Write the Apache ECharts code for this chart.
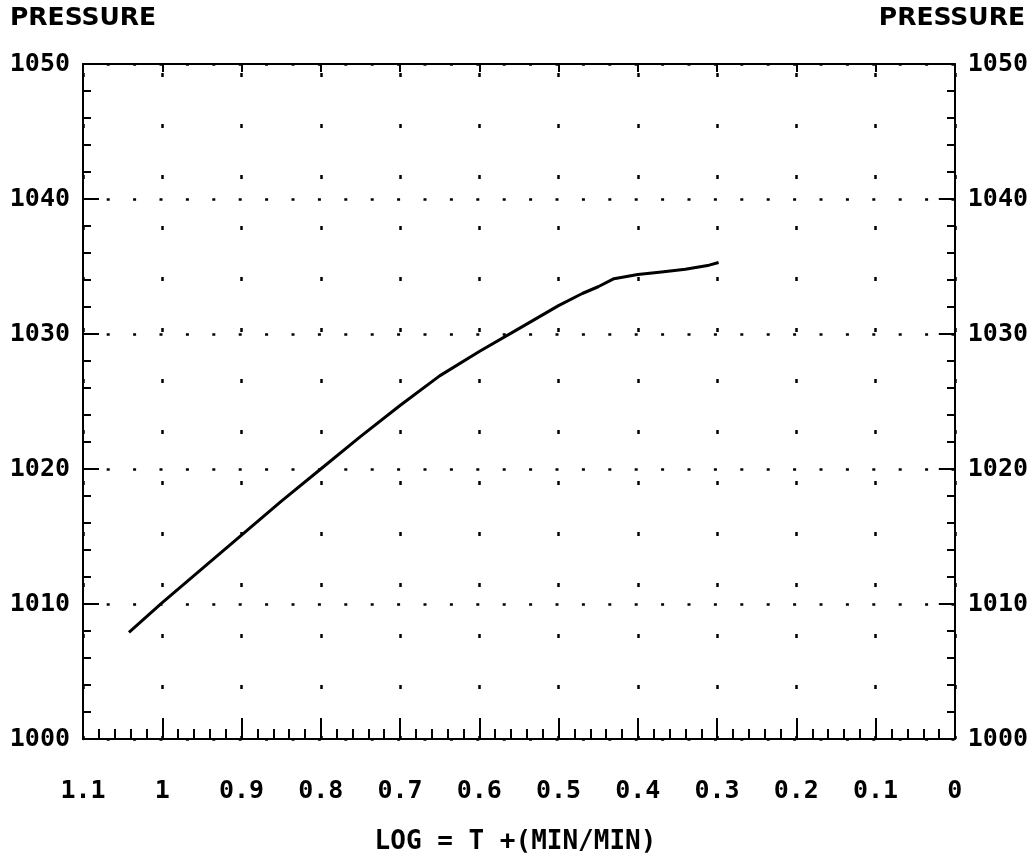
<!DOCTYPE html>
<html>
<head>
<meta charset="utf-8">
<title>Pressure vs log time</title>
<script src="https://cdn.jsdelivr.net/npm/echarts@6/dist/echarts.min.js"></script>
<style>
  html, body { margin: 0; padding: 0; background: #fff; }
  #chart { width: 1031px; height: 857px; }
</style>
</head>
<body>
<div id="chart"></div>
<script>
// log time values (axis runs 1.1 -> 0)
const logTime = [1.042, 1.0, 0.95, 0.9, 0.85, 0.8, 0.75, 0.7, 0.65, 0.6,
  0.55, 0.5, 0.47, 0.45, 0.43, 0.4, 0.37, 0.34, 0.31, 0.298];
// pressure
const pressure = [1007.9, 1010.1, 1012.6, 1015.1, 1017.6, 1020.0, 1022.4, 1024.7, 1026.9, 1028.7,
  1030.4, 1032.1, 1033.0, 1033.5, 1034.1, 1034.4, 1034.6, 1034.8, 1035.1, 1035.3];

const xTickLabels = ["0", "0.1", "0.2", "0.3", "0.4", "0.5", "0.6", "0.7", "0.8", "0.9", "1", "1.1"];
const yTickLabels = ["1000", "1010", "1020", "1030", "1040", "1050"];

const monoFont = "DejaVu Sans Mono";
const ink = "#000";

let chart = echarts.init(document.getElementById("chart"));

let points = logTime.map((t, i) => [t, pressure[i]]);

let gridRect = { left: 83, right: 76, top: 64, bottom: 118 };

//主刻度 y 轴（带标签）
function pressureAxis(pos) {
  return {
    type: "value",
    gridIndex: 0,
    position: pos,
    min: 1000,
    max: 1050,
    interval: 10,
    axisLine: { show: true, onZero: false, lineStyle: { color: ink, width: 2 } },
    axisTick: { show: true, inside: true, length: 16, lineStyle: { color: ink, width: 2 } },
    axisLabel: {
      margin: 13,
      color: ink,
      fontFamily: monoFont,
      fontWeight: "bold",
      fontSize: 25,
      formatter: function (v) {
        return yTickLabels[Math.round((v - 1000) / 10)];
      },
    },
    splitLine: {
      show: pos === "left",
      lineStyle: { color: ink, width: 2.5, type: [3, 23.4], dashOffset: 2.7 },
    },
  };
}

//次刻度 y 轴（第二个 grid，同位置）
function minorPressureAxis(pos) {
  return {
    type: "value",
    gridIndex: 1,
    position: pos,
    min: 1000,
    max: 1050,
    interval: 2,
    axisLine: { show: false, onZero: false },
    axisTick: { show: true, inside: true, length: 8, lineStyle: { color: ink, width: 2 } },
    axisLabel: { show: false },
    splitLine: { show: false },
  };
}

let options = {
  animation: false,
  backgroundColor: "#fff",
  title: [
    {
      text: "PRESSURE",
      left: 10,
      top: 6,
      padding: 0,
      textStyle: { fontFamily: "DejaVu Sans", fontSize: 25, fontWeight: "bold", color: ink },
    },
    {
      text: "PRESSURE",
      right: 6,
      top: 6,
      padding: 0,
      textStyle: { fontFamily: "DejaVu Sans", fontSize: 25, fontWeight: "bold", color: ink },
    },
    {
      text: "LOG = T +(MIN/MIN)",
      left: "center",
      top: 829,
      padding: 0,
      textStyle: { fontFamily: monoFont, fontSize: 26, fontWeight: "bold", color: ink },
    },
  ],
  grid: [
    Object.assign({}, gridRect),
    Object.assign({}, gridRect),
  ],
  xAxis: [
    {
      type: "value",
      gridIndex: 0,
      position: "bottom",
      inverse: true,
      min: 0,
      max: 1.1,
      interval: 0.1,
      axisLine: { show: true, onZero: false, lineStyle: { color: ink, width: 2 } },
      axisTick: { show: true, inside: true, length: 21, lineStyle: { color: ink, width: 2 } },
      axisLabel: {
        margin: 40,
        color: ink,
        fontFamily: monoFont,
        fontWeight: "bold",
        fontSize: 25,
        formatter: function (v) {
          return xTickLabels[Math.round(v * 10)];
        },
      },
      splitLine: {
        show: true,
        lineStyle: { color: ink, width: 2.5, type: [4, 47], dashOffset: 42 },
      },
    },
    {
      type: "value",
      gridIndex: 0,
      position: "top",
      inverse: true,
      min: 0,
      max: 1.1,
      interval: 0.1,
      axisLine: { show: true, onZero: false, lineStyle: { color: ink, width: 2 } },
      axisTick: { show: true, inside: true, length: 8, lineStyle: { color: ink, width: 2 } },
      axisLabel: { show: false },
      splitLine: { show: false },
    },
    {
      type: "value",
      gridIndex: 1,
      position: "bottom",
      inverse: true,
      min: 0,
      max: 1.1,
      interval: 0.02,
      axisLine: { show: false, onZero: false },
      axisTick: { show: true, inside: true, length: 10, lineStyle: { color: ink, width: 2 } },
      axisLabel: { show: false },
      splitLine: { show: false },
    },
  ],
  yAxis: [
    pressureAxis("left"),
    pressureAxis("right"),
    minorPressureAxis("left"),
    minorPressureAxis("right"),
  ],
  series: [
    {
      type: "line",
      data: points,
      xAxisIndex: 0,
      yAxisIndex: 0,
      showSymbol: false,
      smooth: false,
      lineStyle: { color: ink, width: 3 },
    },
  ],
};

chart.setOption(options);
</script>
</body>
</html>
